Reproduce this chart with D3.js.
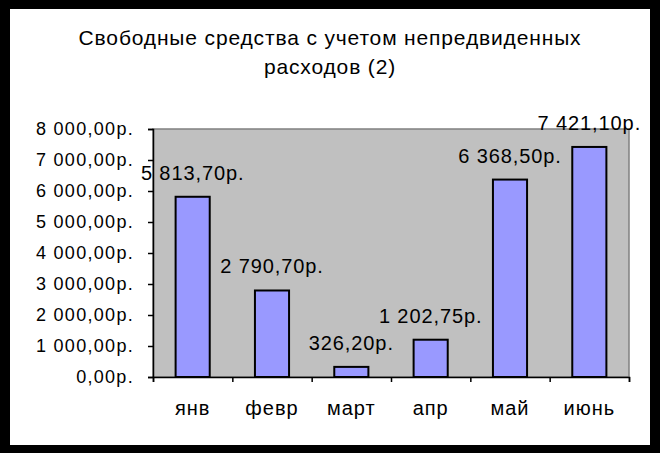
<!DOCTYPE html>
<html><head><meta charset="utf-8">
<script src="https://cdn.jsdelivr.net/npm/d3@7"></script>
<style>body{margin:0;background:#000}svg{display:block}text{font-family:"Liberation Sans",Arial,sans-serif;fill:#000}</style>
</head><body>
<script>
const categories = ["янв","февр","март","апр","май","июнь"];
const values = [5813.70, 2790.70, 326.20, 1202.75, 6368.50, 7421.10];
const yTicks = [0,1000,2000,3000,4000,5000,6000,7000,8000];
const titleLines = ["Свободные средства с учетом непредвиденных","расходов (2)"];

const W = 660, H = 453;
const fmt = v => {
  const s = v.toFixed(2).split(".");
  const int = s[0].replace(/\B(?=(\d{3})+(?!\d))/g, " ");
  return int + "," + s[1] + "р.";
};
const svg = d3.select("body").append("svg").attr("width", W).attr("height", H);
svg.append("rect").attr("width", W).attr("height", H).attr("fill", "#000");
svg.append("rect").attr("x", 10).attr("y", 9).attr("width", 640).attr("height", 436).attr("fill", "#fff");

const m = {l:153, r:629, t:129, b:377};
const x = d3.scaleBand().domain(categories).range([m.l, m.r]).paddingInner(0.57).paddingOuter(0.285);
const y = d3.scaleLinear().domain([0, 8000]).range([m.b, m.t]);

svg.append("rect").attr("x", m.l).attr("y", m.t).attr("width", m.r - m.l).attr("height", m.b - m.t)
  .attr("fill", "#C0C0C0").attr("stroke", "#808080").attr("stroke-width", 1.5);

// title
svg.append("g").selectAll("text").data(titleLines).join("text")
  .attr("x", 330).attr("y", (d,i) => 45 + i*29).attr("text-anchor", "middle")
  .style("font-size", "21px").style("letter-spacing", "0.85px").text(d => d);

// bars
svg.append("g").selectAll("rect").data(values).join("rect")
  .attr("x", (d,i) => x(categories[i])).attr("y", d => y(d))
  .attr("width", x.bandwidth()).attr("height", d => y(0) - y(d))
  .attr("fill", "#9999FF").attr("stroke", "#000").attr("stroke-width", 2);

// y axis
const ya = svg.append("g").attr("transform", `translate(${m.l},0)`)
  .call(d3.axisLeft(y).tickValues(yTicks).tickSize(5).tickPadding(14).tickFormat(fmt));
ya.select(".domain").attr("stroke", "#000").attr("stroke-width", 1.5);
ya.selectAll(".tick line").attr("stroke", "#000").attr("stroke-width", 1.5);
ya.selectAll("text").attr("font-family", null).attr("font-size", null)
  .style("font-size", "18px").style("letter-spacing", "1.3px");

// x axis
const xb = d3.scaleLinear().domain([0, categories.length]).range([m.l, m.r]);
const xa = svg.append("g").attr("transform", `translate(0,${m.b})`)
  .call(d3.axisBottom(xb).tickValues(d3.range(categories.length + 1)).tickSize(5).tickFormat(""));
xa.select(".domain").attr("stroke", "#000").attr("stroke-width", 1.5);
xa.selectAll(".tick line").attr("stroke", "#000").attr("stroke-width", 1.5);
svg.append("g").selectAll("text").data(categories).join("text")
  .attr("x", d => x(d) + x.bandwidth()/2).attr("y", 415).attr("text-anchor", "middle")
  .style("font-size", "20px").style("letter-spacing", "1px").text(d => d);

// data labels
svg.append("g").selectAll("text").data(values).join("text")
  .attr("x", (d,i) => x(categories[i]) + x.bandwidth()/2).attr("y", d => y(d) - 17)
  .attr("text-anchor", "middle").style("font-size", "20px").style("letter-spacing", "0.9px").text(d => fmt(d));
</script>
</body></html>
